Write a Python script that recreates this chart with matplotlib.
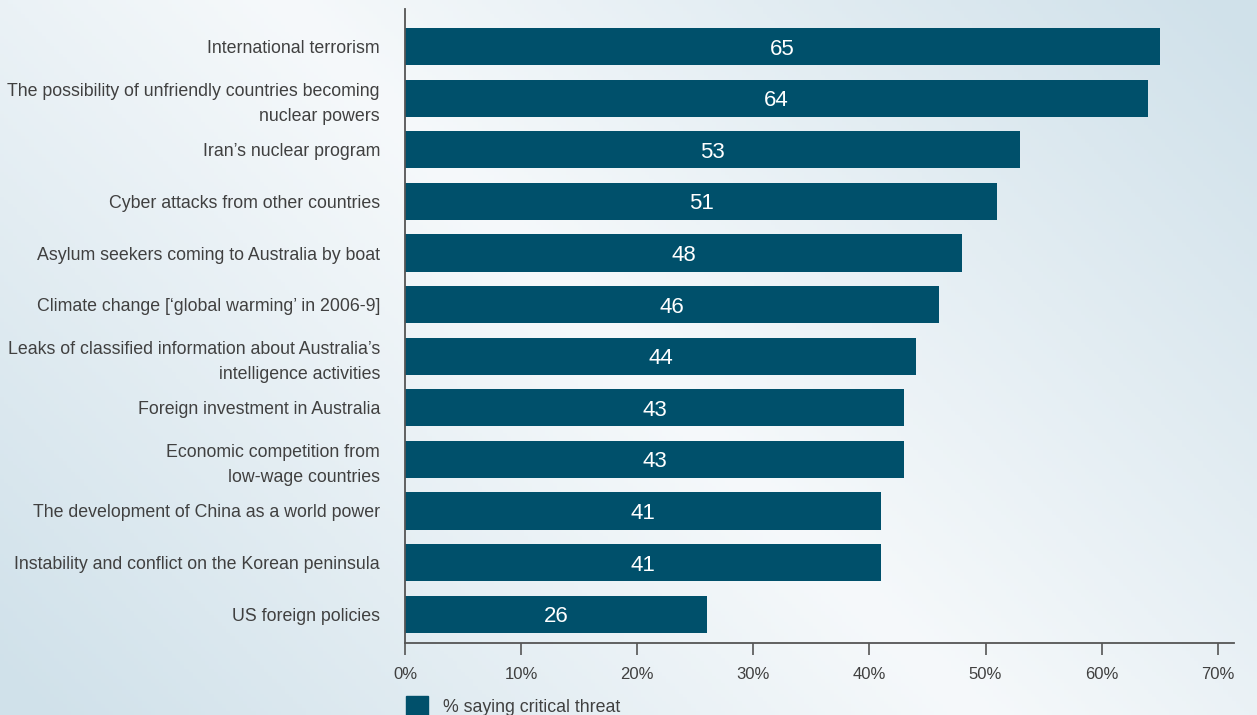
import numpy as np
import matplotlib
matplotlib.use('Agg')
import matplotlib.pyplot as plt
from matplotlib.patches import Patch

plt.rcParams['font.family'] = ['Liberation Sans', 'DejaVu Sans']

categories = [
    'International terrorism',
    'The possibility of unfriendly countries becoming\nnuclear powers',
    'Iran\u2019s nuclear program',
    'Cyber attacks from other countries',
    'Asylum seekers coming to Australia by boat',
    'Climate change [\u2018global warming\u2019 in 2006-9]',
    'Leaks of classified information about Australia\u2019s\nintelligence activities',
    'Foreign investment in Australia',
    'Economic competition from\nlow-wage countries',
    'The development of China as a world power',
    'Instability and conflict on the Korean peninsula',
    'US foreign policies',
]
critical = [65, 64, 53, 51, 48, 46, 44, 43, 43, 41, 41, 26]
xticks = [0, 10, 20, 30, 40, 50, 60, 70]
xtick_labels = ['0%', '10%', '20%', '30%', '40%', '50%', '60%', '70%']
legend_label = '% saying critical threat'

bar_color = '#00506b'
text_color = '#404040'
axis_color = '#555555'

fig = plt.figure(figsize=(12.57, 7.15), dpi=100)

# background gradient
bg = fig.add_axes([0, 0, 1, 1], zorder=-10)
xx, yy = np.meshgrid(np.linspace(0, 1, 300), np.linspace(0, 1, 200))
d = np.abs((xx - 0.5) + 0.55 * (yy - 0.5))
t = np.clip(d / 0.75, 0, 1)
light = np.array([246, 249, 251]) / 255
dark = np.array([208, 225, 234]) / 255
img = light[None, None, :] * (1 - t[..., None]) + dark[None, None, :] * t[..., None]
bg.imshow(img, origin='lower', extent=[0, 1, 0, 1], aspect='auto')
bg.axis('off')

ax = fig.add_axes([405 / 1257, 72 / 715, 829 / 1257, 634 / 715])
ax.patch.set_alpha(0)

y = np.arange(len(categories))
bars = ax.barh(y, critical, height=0.72, color=bar_color)
for yi, v in zip(y, critical):
    ax.text(v / 2, yi, str(v), color='white', ha='center', va='center_baseline', fontsize=16)

ax.set_ylim(11.56, -0.73)
ax.set_xlim(0, 71.4)
ax.set_yticks(y)
ax.set_yticklabels(categories, fontsize=12.8, color=text_color)
for lbl in ax.get_yticklabels():
    lbl.set_linespacing(1.6)
ax.tick_params(axis='y', length=0, pad=18)
ax.set_xticks(xticks)
ax.set_xticklabels(xtick_labels, fontsize=12, color=text_color)
ax.tick_params(axis='x', length=8.6, width=1.2, color=axis_color, pad=8.5)

for s in ['top', 'right']:
    ax.spines[s].set_visible(False)
for s in ['left', 'bottom']:
    ax.spines[s].set_color(axis_color)
    ax.spines[s].set_linewidth(1.3)

fig.legend(handles=[Patch(color=bar_color, label=legend_label)],
           loc='center left', bbox_to_anchor=(406 / 1257, 9 / 715),
           frameon=False, fontsize=12.8, handlelength=1.25, handleheight=1.3,
           handletextpad=0.85, borderpad=0, borderaxespad=0, labelcolor=text_color)

fig.savefig('out.png', dpi=100)
